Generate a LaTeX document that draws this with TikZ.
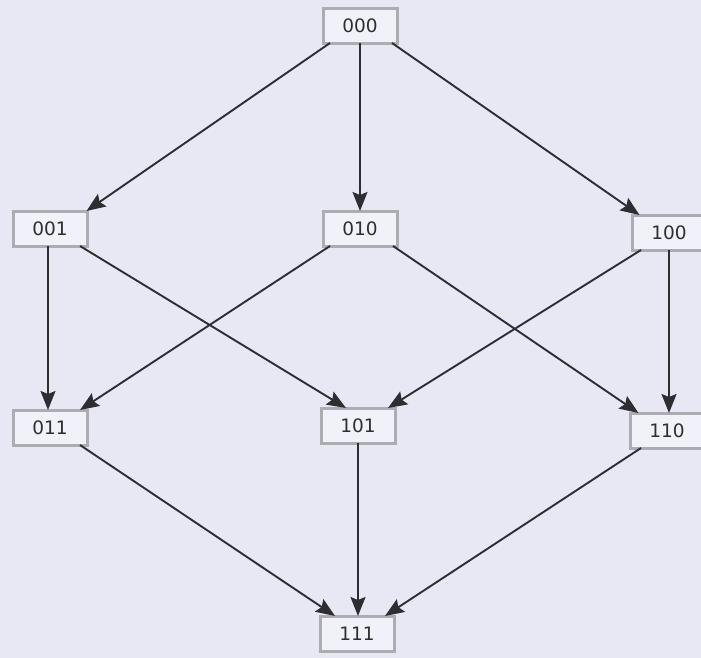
\documentclass[tikz,border=0pt]{standalone}
\usepackage{fontspec}
\setmainfont{DejaVu Sans}
\usetikzlibrary{arrows.meta}
\definecolor{bgcol}{RGB}{232,232,245}
\definecolor{boxfill}{RGB}{241,241,250}
\definecolor{boxline}{RGB}{172,172,178}
\definecolor{edgecol}{RGB}{45,45,50}
\begin{document}
\begin{tikzpicture}[x=1pt,y=-1pt,
  state/.style={draw=boxline, fill=boxfill, line width=3pt,
    minimum width=74pt, minimum height=35pt, inner sep=0pt,
    font=\fontsize{18.5}{18.5}\selectfont, text=black!82},
  edge/.style={draw=edgecol, line width=1.9pt,
    -{Stealth[length=19pt,width=15pt,inset=3pt]}}]
  % background
  \fill[bgcol] (0,0) rectangle (701,658);
  \useasboundingbox (0,0) rectangle (701,658);
  % lattice of 3-bit words
  \node[state] (n000) at (360,26)  {000};
  \node[state] (n001) at (50,229)  {001};
  \node[state] (n010) at (360,229) {010};
  \node[state] (n100) at (669,233) {100};
  \node[state] (n011) at (50,428)  {011};
  \node[state] (n101) at (358,426) {101};
  \node[state] (n110) at (667,431) {110};
  \node[state] (n111) at (357,634) {111};
  % covering relations
  \draw[edge] ([xshift=-30pt,yshift=2pt]n000.south) -- ([xshift=-2pt,yshift=-1pt]n001.north east);
  \draw[edge] ([yshift=2pt]n000.south) -- ([yshift=-1pt]n010.north);
  \draw[edge] ([xshift=32pt,yshift=2pt]n000.south) -- ([xshift=9pt,yshift=-1pt]n100.north west);
  \draw[edge] ([xshift=-2pt,yshift=2pt]n001.south) -- ([xshift=-2pt,yshift=-1pt]n011.north);
  \draw[edge] ([xshift=30pt,yshift=2pt]n001.south) -- ([xshift=-12pt,yshift=-1pt]n101.north);
  \draw[edge] ([xshift=-30pt,yshift=2pt]n010.south) -- ([xshift=30pt,yshift=-1pt]n011.north);
  \draw[edge] ([xshift=33pt,yshift=2pt]n010.south) -- ([xshift=10pt,yshift=-1pt]n110.north west);
  \draw[edge] ([xshift=-28pt,yshift=2pt]n100.south) -- ([xshift=30pt,yshift=-1pt]n101.north);
  \draw[edge] ([yshift=2pt]n100.south) -- ([yshift=-1pt]n100.south |- n110.north);
  \draw[edge] ([xshift=30pt,yshift=2pt]n011.south) -- ([xshift=-22pt,yshift=-1pt]n111.north);
  \draw[edge] ([yshift=2pt]n101.south) -- ([yshift=-1pt]n101.south |- n111.north);
  \draw[edge] ([xshift=-26pt,yshift=2pt]n110.south) -- ([xshift=28pt,yshift=-1pt]n111.north);
\end{tikzpicture}
\end{document}
